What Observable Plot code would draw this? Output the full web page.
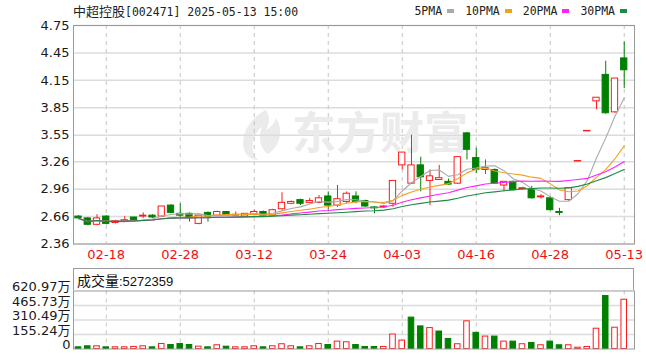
<!DOCTYPE html>
<html>
<head>
<meta charset="utf-8">
<script src="https://cdn.jsdelivr.net/npm/d3@7"></script>
<script src="https://cdn.jsdelivr.net/npm/@observablehq/plot@0.6"></script>
<style>
  body { margin: 0; background: #fff; }
  #wrap { position: relative; width: 646px; height: 355px; overflow: hidden; background: #fff; }
  #title { position: absolute; left: 73px; top: 2px; color: #222; white-space: nowrap; line-height: 18px; }
  #title .cjk { font-family: "Noto Sans CJK SC", sans-serif; font-size: 13px; }
  #title .asc { font-family: "DejaVu Sans Mono", monospace; font-size: 11.5px; }
  #legend { position: absolute; right: 19px; top: 3px; display: flex; align-items: center; gap: 11px;
            font-family: "DejaVu Sans Mono", "Noto Sans CJK SC", monospace; font-size: 11.5px; color: #222; line-height: 16px; }
  #legend .item { display: flex; align-items: center; gap: 5px; }
  #legend .sw { display: inline-block; width: 7px; height: 4px; }
  #logo { position: absolute; left: 236px; top: 108px; }
  #price { position: absolute; left: 0; top: 0; }
  #volume { position: absolute; left: 0; top: 265px; }
  #volhead { position: absolute; left: 73px; top: 268px; width: 561px; height: 22px; border: 1px solid #9a9a9a; border-bottom: none;
             box-sizing: border-box; padding-left: 3px; line-height: 22px; color: #111; white-space: nowrap; }
  #volhead .cjk { font-family: "Noto Sans CJK SC", sans-serif; font-size: 14px; }
  #volhead .asc { font-family: "Liberation Sans", sans-serif; font-size: 13px; }
</style>
</head>
<body>
<div id="wrap">
  <!-- brand mark behind the price panel -->
  <svg id="logo" width="52" height="54" viewBox="0 0 52 54">
    <path d="M30 2 C14 10 4 26 8 42 C10 48 16 52 22 52 C14 44 14 30 26 18 C22 30 24 40 32 46 C44 38 48 22 40 10 C38 16 34 20 30 22 C34 14 34 8 30 2 Z" fill="#ebebeb"/>
  </svg>
  <div id="price"></div>
  <div id="volume"></div>
  <div id="title"><span class="cjk">中超控股</span><span class="asc">[002471] 2025-05-13 15:00</span></div>
  <div id="legend"></div>
  <div id="volhead"></div>
</div>
<script>
// Trading days shown on the chart
const dates = ["02-13","02-14","02-17","02-18","02-19","02-20","02-21","02-24","02-25","02-26","02-27","02-28",
  "03-03","03-04","03-05","03-06","03-07","03-10","03-11","03-12","03-13","03-14","03-17","03-18","03-19","03-20","03-21",
  "03-24","03-25","03-26","03-27","03-28","03-31",
  "04-01","04-02","04-03","04-07","04-08","04-09","04-10","04-11","04-14","04-15","04-16","04-17","04-18",
  "04-21","04-22","04-23","04-24","04-25","04-28","04-29","04-30",
  "05-06","05-07","05-08","05-09","05-12","05-13"];

// Daily prices (CNY)
const open = [2.66,2.64,2.57,2.66,2.59,2.60,2.65,2.66,2.67,2.66, 2.78,2.69,2.69,2.58,2.70,2.67,2.71,2.67,2.66,2.68,
  2.71,2.67,2.74,2.80,2.84,2.81,2.81,2.88,2.78,2.82, 2.88,2.83,2.76,2.76,2.80,3.22,3.02,3.22,3.05,3.06,
  3.04,3.02,3.57,3.30,3.17,3.17,3.00,3.04,2.96,2.95, 2.87,2.86,2.71,2.84,3.27,3.60,3.92,4.21,3.80,4.39];
const high = [2.67,2.65,2.68,2.67,2.62,2.66,2.65,2.70,2.68,2.77, 2.79,2.80,2.70,2.67,2.71,2.72,2.71,2.71,2.69,2.73,
  2.72,2.74,2.92,2.83,2.85,2.86,2.89,2.93,3.00,2.93, 2.93,2.84,2.77,2.78,3.05,3.36,3.55,3.31,3.17,3.22,
  3.07,3.31,3.58,3.41,3.28,3.18,3.04,3.05,2.98,2.99, 2.90,2.88,2.75,2.97,3.27,3.60,3.96,4.36,4.17,4.57];
const low = [2.63,2.56,2.56,2.57,2.58,2.60,2.61,2.64,2.64,2.65, 2.69,2.64,2.60,2.57,2.60,2.66,2.66,2.66,2.65,2.67,
  2.66,2.66,2.73,2.79,2.78,2.81,2.80,2.73,2.76,2.80, 2.80,2.76,2.69,2.75,2.76,3.17,3.01,2.93,2.78,3.06,
  3.00,3.01,3.28,3.13,3.12,3.02,2.93,2.94,2.95,2.85, 2.85,2.72,2.67,2.83,3.27,3.60,3.83,3.78,3.79,4.06];
const close = [2.64,2.57,2.64,2.58,2.61,2.62,2.62,2.67,2.65,2.77, 2.70,2.67,2.65,2.67,2.66,2.71,2.67,2.68,2.69,2.71,
  2.67,2.73,2.81,2.82,2.80,2.83,2.86,2.78,2.85,2.91, 2.82,2.77,2.75,2.77,3.05,3.36,3.22,3.09,3.10,3.08,
  3.01,3.31,3.39,3.17,3.19,3.02,3.04,2.95,2.97,2.86, 2.88,2.73,2.70,2.97,3.27,3.60,3.96,3.79,4.17,4.26];

// Daily volume (万股)
const volume = [18,29,29,18,18,18,22,29,18,54, 43,54,43,25,18,40,25,18,18,29,
  18,29,51,29,18,29,54,43,79,72, 43,22,22,22,155,90,336,242,224,187,
  108,51,296,173,133,133,79,79,51,65, 40,79,40,40,14,22,217,567,228,527.2359];

// Axis ticks
const xTickLabels = ["02-18","02-28","03-12","03-24","04-03","04-16","04-28","05-13"];
const priceTicks = [2.36,2.66,2.96,3.26,3.55,3.85,4.15,4.45,4.75];
const volumeTicks = [0,155.24,310.49,465.73,620.97];

// Moving averages
const maPeriods = [5,10,20,30];
const maColors = ["#aaaaaa","#f2a11f","#ff22ff","#1f8a45"];

const RED = "#ff1a1a", GREEN = "#008000";
const rows = dates.map((date, i) => ({
  i, date, o: open[i], h: high[i], l: low[i], c: close[i], v: volume[i],
  rise: close[i] >= open[i],
  volUp: i === 0 ? close[i] >= open[i] : close[i] >= close[i - 1]
}));
const tickIdx = xTickLabels.map(d => dates.indexOf(d));
const xDomain = [-0.54, dates.length + 0.11];
const font = "DejaVu Sans, Noto Sans CJK SC, sans-serif";

// Legend
const legend = document.getElementById("legend");
maPeriods.forEach((p, k) => {
  const it = document.createElement("span");
  it.className = "item";
  it.innerHTML = `<span>${p}PMA</span><span class="sw" style="background:${maColors[k]}"></span>`;
  legend.appendChild(it);
});

// Volume header
document.getElementById("volhead").innerHTML =
  `<span class="cjk">成交量</span><span class="asc">:${Math.round(volume[volume.length - 1] * 10000)}</span>`;

// Price panel
const price = Plot.plot({
  width: 646, height: 265,
  marginLeft: 73, marginRight: 12, marginTop: 25, marginBottom: 21.5,
  style: { fontFamily: font, background: "transparent", overflow: "visible" },
  x: { type: "linear", domain: xDomain, label: null },
  y: { domain: [2.36, 4.75], label: null },
  color: { type: "identity" },
  marks: [
    Plot.gridY(priceTicks, { stroke: "#dcdcdc", strokeOpacity: 1, strokeWidth: 1.5 }),
    Plot.ruleX(tickIdx, { stroke: "#c4c4c4", strokeDasharray: "4,4" }),
    Plot.text(["东方财富"], { frameAnchor: "middle", dx: 26, dy: 0, fontSize: 44, fontWeight: "bold",
      fill: "#ebebeb", fontFamily: "Noto Sans CJK SC" }),
    Plot.ruleX(rows, { x: "i", y1: "l", y2: "h", stroke: d => d.rise ? RED : GREEN }),
    Plot.rect(rows.filter(d => d.o !== d.c), {
      x1: d => d.i - 0.34, x2: d => d.i + 0.34, y1: "o", y2: "c",
      fill: d => d.rise ? "#ffffff" : GREEN, stroke: d => d.rise ? RED : GREEN, strokeWidth: 1
    }),
    Plot.ruleY(rows.filter(d => d.o === d.c), { y: "c", x1: d => d.i - 0.4, x2: d => d.i + 0.4, stroke: RED, strokeWidth: 1.5 }),
    ...maPeriods.map((k, j) => Plot.lineY(rows, Plot.windowY({ k, anchor: "end", strict: false },
      { x: "i", y: "c", stroke: maColors[j], strokeWidth: 1.1 }))),
    Plot.frame({ stroke: "#9a9a9a" }),
    Plot.axisY(priceTicks, { tickSize: 0, tickPadding: 4, tickFormat: d => d.toFixed(2), fontSize: 13, fill: "#1a1a1a", label: null }),
    Plot.axisX(tickIdx, { tickSize: 0, tickPadding: 6, tickFormat: i => dates[i], fontSize: 13, fill: "#ee1111", label: null })
  ]
});
document.getElementById("price").appendChild(price);

// Volume panel
const vol = Plot.plot({
  width: 646, height: 90,
  marginLeft: 73, marginRight: 12, marginTop: 25.5, marginBottom: 6.5,
  style: { fontFamily: font, background: "transparent", overflow: "visible" },
  x: { type: "linear", domain: xDomain, axis: null, label: null },
  y: { domain: [0, 620.97], label: null },
  color: { type: "identity" },
  marks: [
    Plot.gridY(volumeTicks.slice(1, -1), { stroke: "#dcdcdc", strokeOpacity: 1, strokeWidth: 1.5 }),
    Plot.ruleX(tickIdx, { stroke: "#c4c4c4", strokeDasharray: "4,4" }),
    Plot.rect(rows, {
      x1: d => d.i - 0.3, x2: d => d.i + 0.3, y1: 0, y2: "v",
      fill: d => d.volUp ? "#ffffff" : GREEN, stroke: d => d.volUp ? RED : GREEN, strokeWidth: 1
    }),
    Plot.frame({ stroke: "#9a9a9a" }),
    Plot.axisY(volumeTicks, { tickSize: 0, tickPadding: 3, dy: -4, fontSize: 13, fill: "#1a1a1a", label: null,
      tickFormat: d => d === 0 ? "0" : d.toFixed(2) + "万" })
  ]
});
document.getElementById("volume").appendChild(vol);
</script>
</body>
</html>
